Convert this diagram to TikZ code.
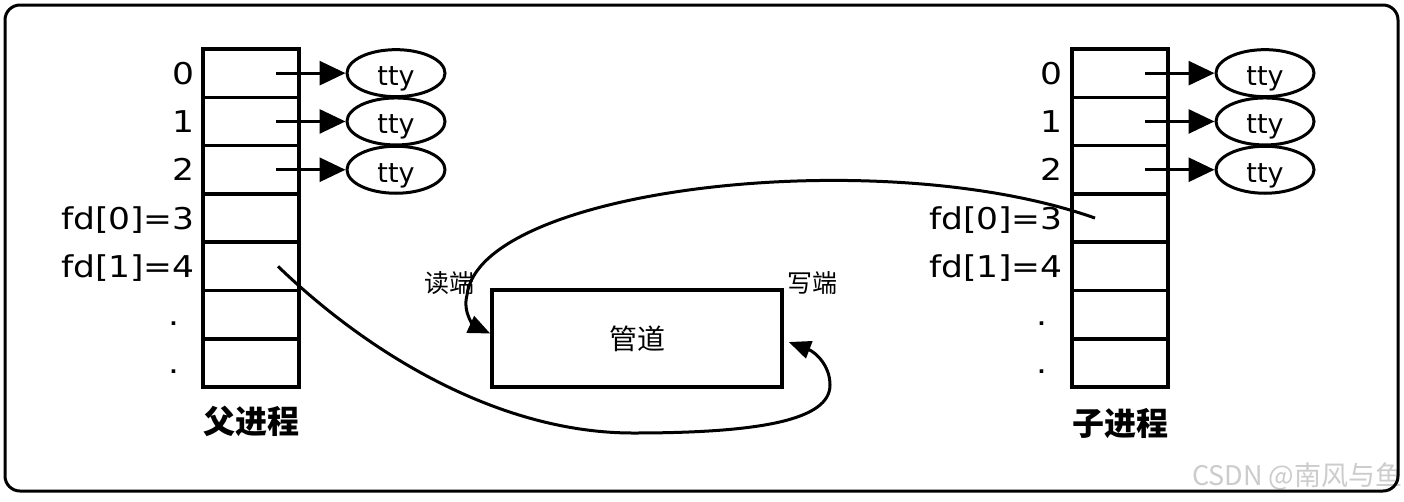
\documentclass[tikz,border=0pt]{standalone}
\usepackage{fontspec}
\setmainfont{DejaVu Sans}
\newfontfamily\widefont[FakeStretch=1.15]{DejaVu Sans}
\newfontfamily\cjk{Noto Sans CJK SC}
\usetikzlibrary{calc,shapes.geometric,arrows.meta}

\tikzset{
  fdcell/.style={draw, line width=3.5pt, minimum width=96pt, minimum height=48.3pt,
    inner sep=0pt, outer sep=0pt},
  fdlabel/.style={anchor=base east, inner sep=0pt, font=\widefont\fontsize{30}{30}\selectfont},
  ttyfile/.style={draw, ellipse, line width=3pt, minimum width=98pt, minimum height=47pt,
    inner sep=0pt, text height=24.8pt, text depth=0pt, font=\fontsize{27}{27}\selectfont},
  ttyarrow/.style={line width=3pt, -{Triangle[length=26pt,width=24pt]}},
  pipearrow/.style={line width=3pt, -{Triangle[length=22pt,width=18pt]}},
  endlabel/.style={inner sep=0pt, font=\cjk\fontsize{25}{25}\selectfont},
  proclabel/.style={inner sep=0pt, font=\cjk\bfseries\fontsize{32}{32}\selectfont},
}

\begin{document}
\begin{tikzpicture}[x=1pt, y=-1pt]

  % ------------------------------------------------------------
  % Frame
  % ------------------------------------------------------------

  \useasboundingbox (0,0) rectangle (1404,501);
  \clip (0,0) rectangle (1404,501);
  \fill[white] (0,0) rectangle (1404,501);

  \def\xpar{251}
  \def\xchi{1120}
  \def\ytop{49}
  \def\rowh{48.3}

  % ------------------------------------------------------------
  % fd tables
  % ------------------------------------------------------------

  \foreach \i/\lab/\dx in {0/0/0, 1/1/0, 2/2/0, 3/{fd[0]=3}/0, 4/{fd[1]=4}/0, 5/./15, 6/./15}{
    \node[fdcell] (p\i) at (\xpar, {\ytop+\rowh*(\i+0.5)}) {};
    \node[fdcell] (c\i) at (\xchi, {\ytop+\rowh*(\i+0.5)}) {};
    \node[fdlabel] (pl\i) at ({195-\dx}, {\ytop+\rowh*(\i+0.5)+11}) {\lab};
    \node[fdlabel] (cl\i) at ({1063-\dx}, {\ytop+\rowh*(\i+0.5)+11}) {\lab};
  }

  % ------------------------------------------------------------
  % tty files
  % ------------------------------------------------------------

  \foreach \i in {0,1,2}{
    \node[ttyfile] (pt\i) at (396, {\ytop+\rowh*(\i+0.5)}) {tty};
    \node[ttyfile] (ct\i) at (1265, {\ytop+\rowh*(\i+0.5)}) {tty};
    \coordinate (ps\i) at ($(p\i)+(25,0)$);
    \coordinate (cs\i) at ($(c\i)+(25,0)$);
    \draw[ttyarrow] (ps\i) -- (pt\i.west);
    \draw[ttyarrow] (cs\i) -- (ct\i.west);
  }

  \node[proclabel] (par) at (251,421) {父进程};
  \node[proclabel] (chi) at (1120,424) {子进程};

  % ------------------------------------------------------------
  % Pipe
  % ------------------------------------------------------------

  \node[draw, line width=3.5pt, minimum width=290pt, minimum height=97pt,
    font=\cjk\fontsize{28}{28}\selectfont] (pipe) at (637,338.5) {管道};

  \node[endlabel] (rdl) at (449,283) {读端};
  \node[endlabel] (wrl) at (812,283) {写端};

  % read end: child fd[0]
  \coordinate (rd) at ($(c3)+(-25,0)$);
  \draw[pipearrow] (rd) .. controls (880,142) and (480,188) .. (467,295)
    .. controls (462,314) and (476,327) .. ($(pipe.west)+(0,-5)$);

  % write end: parent fd[1]
  \coordinate (wr) at ($(p4)+(27,0)$);
  \draw[pipearrow] (wr) .. controls (370,355) and (500,433) .. (633,433)
    .. controls (760,433) and (830,420) .. (830,385)
    .. controls (830,365) and (815,352) .. ($(pipe.east)+(5,3.5)$);

  % ------------------------------------------------------------
  % Watermark and border
  % ------------------------------------------------------------

  \node[anchor=west, inner sep=0pt, text=gray!40,
    font=\cjk\fontsize{27}{27}\selectfont] (wm) at (1192,476) {CSDN @南风与鱼};

  \draw[line width=3pt, rounded corners=15pt] (5,5) rectangle (1398,491);
\end{tikzpicture}
\end{document}
